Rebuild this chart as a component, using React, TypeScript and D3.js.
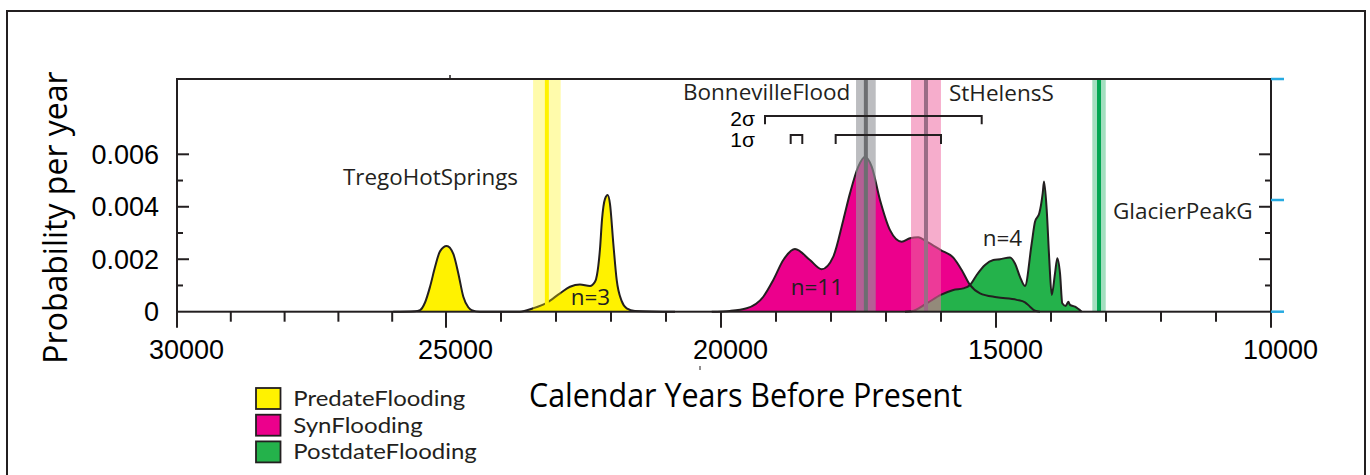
import React from "react";
import * as d3 from "d3";

// ---- data (years BP, probability per year) ----
const predate: [number, number][] = [
  [25980, 0], [25576, 0.00002], [25483, 0.00006], [25390, 0.00035], [25297, 0.00095],
  [25204, 0.0017], [25112, 0.0023], [24987, 0.0025], [24867, 0.0022], [24776, 0.00146],
  [24685, 0.00057], [24595, 0.00017], [24533, 0.00006], [24382, 0], [23655, 0],
  [23418, 0.00013], [23169, 0.00034], [22927, 0.0007], [22745, 0.00095], [22564, 0.00104],
  [22382, 0.00098], [22291, 0.00114], [22255, 0.0014], [22200, 0.0024], [22164, 0.0035],
  [22109, 0.0043], [22060, 0.00445], [22018, 0.0041], [21958, 0.0026], [21896, 0.0012],
  [21805, 0.0004], [21715, 0.00013], [21564, 0.00003], [20836, 0],
];
const synFlooding: [number, number][] = [
  [20169, 0], [19836, 0.00003], [19533, 0.00013], [19231, 0.00057], [19049, 0.00121],
  [18867, 0.00197], [18655, 0.00239], [18382, 0.00197], [18169, 0.00162], [17958, 0.0021],
  [17776, 0.0035], [17655, 0.00451], [17504, 0.00553], [17382, 0.00591], [17260, 0.00553],
  [17109, 0.00426], [16927, 0.00311], [16715, 0.00267], [16564, 0.0028], [16413, 0.00284],
  [16260, 0.00267], [16005, 0.00235], [15776, 0.00206], [15624, 0.00159], [15473, 0.00102],
  [15291, 0.0007], [14987, 0.00055], [14624, 0.00045], [14473, 0.00036], [14382, 0.00019],
  [14291, 0.00004], [14200, 0],
];
const postdate: [number, number][] = [
  [16655, 0], [16533, 0.00002], [16260, 0.00032], [16005, 0.00064], [15776, 0.00083],
  [15595, 0.00089], [15473, 0.00102], [15351, 0.0014], [15200, 0.00178], [15049, 0.00197],
  [14927, 0.002], [14745, 0.00207], [14655, 0.00184], [14564, 0.00133], [14473, 0.00098],
  [14351, 0.0026], [14291, 0.00343], [14213, 0.00375], [14151, 0.00451], [14127, 0.00496],
  [14078, 0.00388], [14031, 0.00197], [13987, 0.00064], [13927, 0.00146], [13885, 0.00204],
  [13836, 0.00146], [13795, 0.00032], [13733, 0.00022], [13685, 0.00038], [13655, 0.00026],
  [13564, 0.00019], [13442, 0],
];

const tephraNames = ["TregoHotSprings", "BonnevilleFlood", "StHelensS", "GlacierPeakG"];
const tephraAge = [23166, 17366, 16273, 13127];
const tephraHalfWidth = [251, 179, 272, 122];

const sigma2Ranges: [number, number][] = [[19200, 15260]];
const sigma1Ranges: [number, number][] = [[18733, 18522], [17915, 16000]];

const xMajorTicks = [30000, 25000, 20000, 15000, 10000];
const xMinorTicks = d3.range(30000, 9999, -1000).filter((v) => v % 5000 !== 0);
const yMajorTicks = [0, 0.002, 0.004, 0.006];
const yMinorTicks = [0.001, 0.003, 0.005];
const rightSecondaryTicks = [0, 0.48, 1];

const legendNames = ["PredateFlooding", "SynFlooding", "PostdateFlooding"];
const nLabels = ["n=3", "n=11", "n=4"];

// ---- styles ----
const INK = "#231f20";
const YELLOW = "#fff200";
const MAGENTA = "#ec008c";
const GREEN = "#24b24b";
const bandFill = ["#fff200", "rgb(149,150,155)", "rgb(238,105,162)", "#00a651"];
const bandOpacity = [0.33, 0.63, 0.55, 0.36];
const lineColor = ["#fff200", "#6d6e71", "#9a6c86", "#00a651"];
const SANS = "'Open Sans', 'Noto Sans', sans-serif";
const LATO = "Lato, 'Open Sans', sans-serif";
const ARIAL = "'Liberation Sans', Arial, sans-serif";

const L = 177, R = 1271, T = 79, B = 311.7;

export default function App() {
  const x = d3.scaleLinear().domain([30000, 25000, 10000]).range([L, 446, R]);
  const y = d3.scaleLinear().domain([0, 0.006]).range([B, 154.3]);
  const ySec = d3.scaleLinear().domain([0, 1]).range([B, T]);

  const area = d3
    .area<[number, number]>()
    .x((d) => x(d[0]))
    .y0(y(0))
    .y1((d) => y(d[1]))
    .curve(d3.curveMonotoneX);
  const line = d3
    .line<[number, number]>()
    .x((d) => x(d[0]))
    .y((d) => y(d[1]))
    .curve(d3.curveMonotoneX);

  const series = [
    { data: synFlooding, fill: MAGENTA },
    { data: postdate, fill: GREEN },
    { data: predate, fill: YELLOW },
  ];
  const legendWidths = [172, 129.5, 183.5];

  return (
    <div style={{ position: "absolute", left: 0, top: 0 }}>
      <svg width={1370} height={475} style={{ display: "block", background: "#fff" }}>
        {/* outer frame */}
        <rect x={7} y={11} width={1358} height={480} fill="none" stroke={INK} strokeWidth={2} />

        {/* fills */}
        {series.map((s, i) => (
          <path key={"f" + i} d={area(s.data) || ""} fill={s.fill} />
        ))}
        {/* outlines */}
        {series.map((s, i) => (
          <path key={"l" + i} d={line(s.data) || ""} fill="none" stroke={INK} strokeWidth={2} />
        ))}

        {/* tephra bands */}
        {tephraAge.map((a, i) => (
          <rect
            key={"b" + i}
            x={x(a + tephraHalfWidth[i])}
            y={T}
            width={x(a - tephraHalfWidth[i]) - x(a + tephraHalfWidth[i])}
            height={B - T}
            fill={bandFill[i]}
            fillOpacity={bandOpacity[i]}
          />
        ))}
        {tephraAge.map((a, i) => (
          <line key={"c" + i} x1={x(a)} x2={x(a)} y1={T} y2={B} stroke={lineColor[i]} strokeWidth={4} />
        ))}

        {/* plot frame */}
        <rect x={L} y={T} width={R - L} height={B - T} fill="none" stroke={INK} strokeWidth={2} />

        {/* x ticks */}
        {xMajorTicks.map((t) => (
          <line key={"xM" + t} x1={x(t)} x2={x(t)} y1={B} y2={B + 16} stroke={INK} strokeWidth={2} />
        ))}
        {xMinorTicks.map((t) => (
          <line key={"xm" + t} x1={x(t)} x2={x(t)} y1={B} y2={B + 10} stroke={INK} strokeWidth={2} />
        ))}
        {xMajorTicks.map((t) => (
          <text key={"xl" + t} x={x(t) + 9.5} y={358.5} textAnchor="middle" fontFamily={ARIAL} fontSize={27} fill="#000">
            {t}
          </text>
        ))}
        {/* small top tick */}
        <line x1={x(25000) + 4} x2={x(25000) + 4} y1={T - 4} y2={T} stroke={INK} strokeWidth={1.5} />
        <line x1={700} x2={700} y1={366} y2={370} stroke={INK} strokeWidth={1} />

        {/* y ticks left and right */}
        {yMajorTicks.filter((t) => t > 0).map((t) => (
          <g key={"yM" + t}>
            <line x1={L} x2={L + 12} y1={y(t)} y2={y(t)} stroke={INK} strokeWidth={2} />
            <line x1={R - 12} x2={R} y1={y(t)} y2={y(t)} stroke={INK} strokeWidth={2} />
          </g>
        ))}
        {yMinorTicks.map((t) => (
          <g key={"ym" + t}>
            <line x1={L} x2={L + 6} y1={y(t)} y2={y(t)} stroke={INK} strokeWidth={2} />
            <line x1={R - 6} x2={R} y1={y(t)} y2={y(t)} stroke={INK} strokeWidth={2} />
          </g>
        ))}
        {yMajorTicks.map((t) => (
          <text key={"yl" + t} x={159} y={y(t)} dy="0.36em" textAnchor="end" fontFamily={ARIAL} fontSize={27} fill="#000">
            {t === 0 ? "0" : t.toFixed(3)}
          </text>
        ))}
        {rightSecondaryTicks.map((t) => (
          <line key={"ys" + t} x1={R} x2={R + 13} y1={ySec(t)} y2={ySec(t)} stroke="#27aae1" strokeWidth={2.5} />
        ))}

        {/* axis titles */}
        <text
          transform="translate(66.7,217.5) rotate(-90)"
          textAnchor="middle"
          fontFamily={SANS}
          fontSize={32}
          fill="#000"
        >
          Probability per year
        </text>
        <text
          x={529}
          y={407}
          fontFamily={SANS}
          fontSize={33}
          textLength={433}
          lengthAdjust="spacingAndGlyphs"
          fill="#000"
        >
          Calendar Years Before Present
        </text>

        {/* tephra labels */}
        <text x={343} y={185} fontFamily={SANS} fontSize={22.4} fill={INK}>{tephraNames[0]}</text>
        <text x={683} y={100} fontFamily={SANS} fontSize={22.5} fill={INK}>{tephraNames[1]}</text>
        <text x={949} y={100.7} fontFamily={SANS} fontSize={22.5} fill={INK}>{tephraNames[2]}</text>
        <text x={1113} y={219} fontFamily={SANS} fontSize={22.5} fill={INK}>{tephraNames[3]}</text>

        {/* n labels */}
        <text x={570.7} y={305} fontFamily={SANS} fontSize={22.5} fill={INK}>{nLabels[0]}</text>
        <text x={790.7} y={295} fontFamily={SANS} fontSize={22.5} fill={INK}>{nLabels[1]}</text>
        <text x={982.7} y={245.7} fontFamily={SANS} fontSize={22.5} fill={INK}>{nLabels[2]}</text>

        {/* sigma brackets */}
        <text x={755} y={125.7} textAnchor="end" fontFamily={ARIAL} fontSize={21} fill="#000">2σ</text>
        <text x={755} y={146.7} textAnchor="end" fontFamily={ARIAL} fontSize={21} fill="#000">1σ</text>
        {sigma2Ranges.map((r, i) => (
          <path
            key={"s2" + i}
            d={`M${x(r[0])},124.3V116H${x(r[1])}V124.3`}
            fill="none"
            stroke={INK}
            strokeWidth={2}
          />
        ))}
        {sigma1Ranges.map((r, i) => (
          <path
            key={"s1" + i}
            d={`M${x(r[0])},144V135H${x(r[1])}V144`}
            fill="none"
            stroke={INK}
            strokeWidth={2}
          />
        ))}

        {/* legend */}
        {legendNames.map((n, i) => (
          <g key={"lg" + i}>
            <rect
              x={256}
              y={388 + i * 26.7}
              width={24.5}
              height={21}
              fill={[YELLOW, MAGENTA, GREEN][i]}
              stroke={INK}
              strokeWidth={1.8}
            />
            <text
              x={293.3}
              y={406 + i * 26.7}
              fontFamily={LATO}
              fontSize={21.5}
              textLength={legendWidths[i]}
              lengthAdjust="spacingAndGlyphs"
              fill={INK}
            >
              {n}
            </text>
          </g>
        ))}
      </svg>
    </div>
  );
}
